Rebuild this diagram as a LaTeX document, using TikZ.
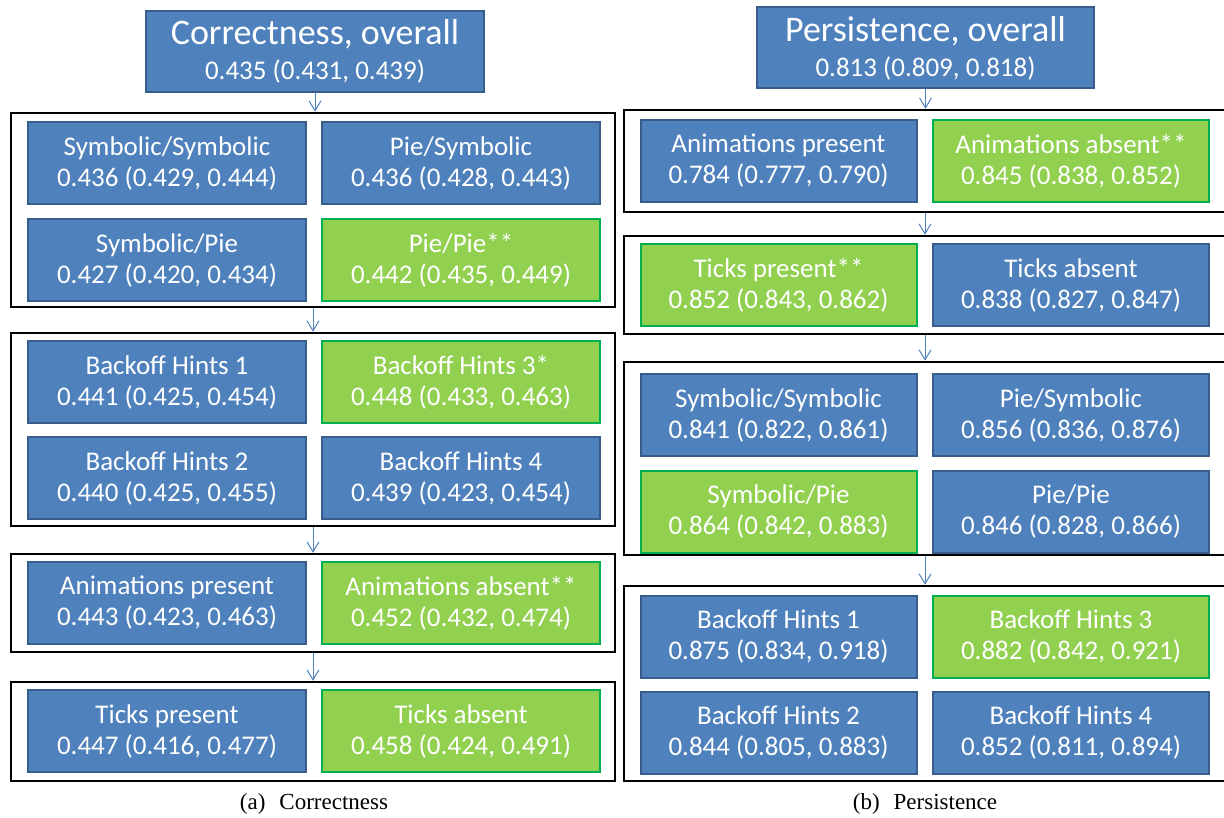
\documentclass[tikz,border=0pt]{standalone}
\usepackage{fontspec}
\setmainfont{Carlito}
\newfontfamily\capfont{Liberation Serif}
\usetikzlibrary{arrows.meta}
\definecolor{boxblue}{HTML}{4F81BD}
\definecolor{edgeblue}{HTML}{385D8A}
\definecolor{boxgreen}{HTML}{92D050}
\definecolor{edgegreen}{HTML}{00B050}
\tikzset{
  cell/.style={draw=edgeblue, fill=boxblue, line width=2pt, text=white,
    align=center, inner sep=0pt, minimum height=82pt,
    font=\fontsize{27}{31}\selectfont},
  best/.style={cell, draw=edgegreen, fill=boxgreen},
  head/.style={cell, minimum height=81pt},
  grp/.style={draw=black, line width=2.5pt, inner sep=0pt},
  flow/.style={draw=boxblue, line width=1pt,
    -{Straight Barb[length=10pt,width=12pt]}},
  subcap/.style={font=\capfont\fontsize{23}{27}\selectfont}
}
\begin{document}
\begin{tikzpicture}[x=1pt, y=-1pt]
        \useasboundingbox (0, 0) rectangle (1224, 818);
        \node[grp, minimum width=604pt, minimum height=194pt] (gc1) at (313, 210) {};
        \node[grp, minimum width=604pt, minimum height=193pt] (gc2) at (313, 429.5) {};
        \node[grp, minimum width=604pt, minimum height=98pt] (gc3) at (313, 603) {};
        \node[grp, minimum width=604pt, minimum height=99pt] (gc4) at (313, 731.5) {};
        \node[grp, minimum width=602pt, minimum height=102pt] (gp1) at (925, 161) {};
        \node[grp, minimum width=602pt, minimum height=98pt] (gp2) at (925, 285) {};
        \node[grp, minimum width=602pt, minimum height=193pt] (gp3) at (925, 458.5) {};
        \node[grp, minimum width=602pt, minimum height=195pt] (gp4) at (925, 683.5) {};
        \node[head, minimum width=338pt] (co) at (315, 51.5)
          {{\fontsize{36}{36}\selectfont Correctness, overall}\\[4pt]0.435 (0.431, 0.439)};
        \node[head, minimum width=337pt] (po) at (925.5, 48)
          {{\fontsize{36}{36}\selectfont Persistence, overall}\\[4pt]0.813 (0.809, 0.818)};
        \node[cell, minimum width=278pt] (csym) at (167, 163.5) {Symbolic/Symbolic\\0.436 (0.429, 0.444)};
        \node[cell, minimum width=278pt] (cpsy) at (461, 163.5) {Pie/Symbolic\\0.436 (0.428, 0.443)};
        \node[cell, minimum width=278pt] (cspi) at (167, 260) {Symbolic/Pie\\0.427 (0.420, 0.434)};
        \node[best, minimum width=278pt] (cpie) at (461, 260) {Pie/Pie**\\0.442 (0.435, 0.449)};
        \node[cell, minimum width=278pt] (cbh1) at (167, 382) {Backoff Hints 1\\0.441 (0.425, 0.454)};
        \node[best, minimum width=278pt] (cbh3) at (461, 382) {Backoff Hints 3*\\0.448 (0.433, 0.463)};
        \node[cell, minimum width=278pt] (cbh2) at (167, 478) {Backoff Hints 2\\0.440 (0.425, 0.455)};
        \node[cell, minimum width=278pt] (cbh4) at (461, 478) {Backoff Hints 4\\0.439 (0.423, 0.454)};
        \node[cell, minimum width=278pt] (canp) at (167, 603) {Animations present\\0.443 (0.423, 0.463)};
        \node[best, minimum width=278pt] (cana) at (461, 603) {Animations absent**\\0.452 (0.432, 0.474)};
        \node[cell, minimum width=278pt] (ctkp) at (167, 731) {Ticks present\\0.447 (0.416, 0.477)};
        \node[best, minimum width=278pt] (ctka) at (461, 731) {Ticks absent\\0.458 (0.424, 0.491)};
        \node[cell, minimum width=276pt] (panp) at (778.5, 161) {Animations present\\0.784 (0.777, 0.790)};
        \node[best, minimum width=276pt] (pana) at (1071, 161) {Animations absent**\\0.845 (0.838, 0.852)};
        \node[best, minimum width=276pt] (ptkp) at (778.5, 285.5) {Ticks present**\\0.852 (0.843, 0.862)};
        \node[cell, minimum width=276pt] (ptka) at (1071, 285.5) {Ticks absent\\0.838 (0.827, 0.847)};
        \node[cell, minimum width=276pt] (psym) at (778.5, 415) {Symbolic/Symbolic\\0.841 (0.822, 0.861)};
        \node[cell, minimum width=276pt] (ppsy) at (1071, 415) {Pie/Symbolic\\0.856 (0.836, 0.876)};
        \node[best, minimum width=276pt] (pspi) at (778.5, 511.5) {Symbolic/Pie\\0.864 (0.842, 0.883)};
        \node[cell, minimum width=276pt] (ppie) at (1071, 511.5) {Pie/Pie\\0.846 (0.828, 0.866)};
        \node[cell, minimum width=276pt] (pbh1) at (778.5, 636.5) {Backoff Hints 1\\0.875 (0.834, 0.918)};
        \node[best, minimum width=276pt] (pbh3) at (1071, 636.5) {Backoff Hints 3\\0.882 (0.842, 0.921)};
        \node[cell, minimum width=276pt] (pbh2) at (778.5, 732.5) {Backoff Hints 2\\0.844 (0.805, 0.883)};
        \node[cell, minimum width=276pt] (pbh4) at (1071, 732.5) {Backoff Hints 4\\0.852 (0.811, 0.894)};
        \node[subcap] (capa) at (314, 804) {(a)\hspace{14pt}Correctness};
        \node[subcap] (capb) at (925, 804) {(b)\hspace{14pt}Persistence};
        \draw[flow] (co.south) -- (co.south |- gc1.north);
        \draw[flow] (gc1) -- (gc2);
        \draw[flow] (gc2) -- (gc3);
        \draw[flow] (gc3) -- (gc4);
        \draw[flow] (po.south) -- (po.south |- gp1.north);
        \draw[flow] (gp1) -- (gp2);
        \draw[flow] (gp2) -- (gp3);
        \draw[flow] (gp3) -- (gp4);
      \end{tikzpicture}
\end{document}
